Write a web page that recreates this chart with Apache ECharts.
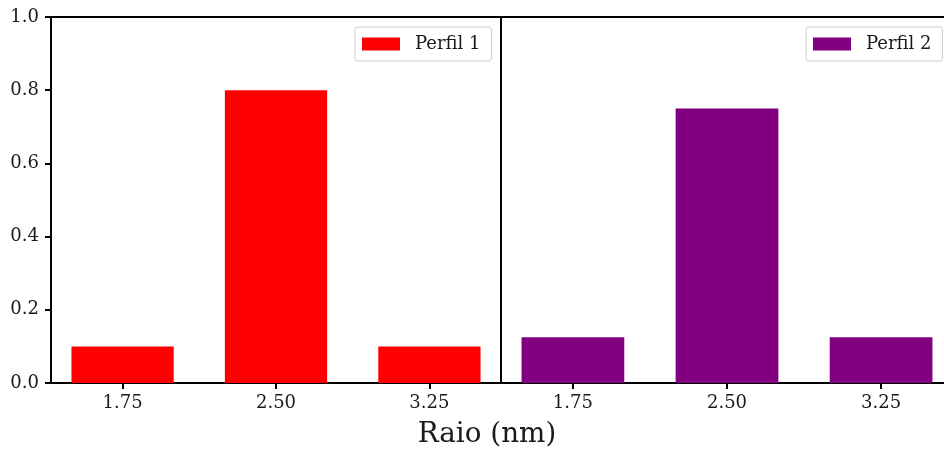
<!DOCTYPE html>
<html>
<head>
<meta charset="utf-8">
<script src="https://cdn.jsdelivr.net/npm/echarts@6/dist/echarts.min.js"></script>
<style>
  html, body { margin: 0; padding: 0; background: #ffffff; }
  #chart { width: 944px; height: 452px; }
</style>
</head>
<body>
<div id="chart"></div>
<script>
// Radius classes (nm) and the fraction of each profile per class
const radii = [1.75, 2.50, 3.25];
const perfil1 = [0.10, 0.80, 0.10];
const perfil2 = [0.125, 0.75, 0.125];
const seriesNames = ['Perfil 1', 'Perfil 2'];
const xTicks = [1.75, 2.50, 3.25];
const xLabel = 'Raio (nm)';

const FONT = 'DejaVu Serif';
const TEXT = '#1a1a1a';
const BAR_W = 0.5; // bar width in data units (nm)

function barRender(params, api) {
  const x = api.value(0), y = api.value(1);
  const p0 = api.coord([x - BAR_W / 2, y]);
  const p1 = api.coord([x + BAR_W / 2, 0]);
  return {
    type: 'rect',
    shape: { x: p0[0], y: p0[1], width: p1[0] - p0[0], height: p1[1] - p0[1] },
    style: api.style()
  };
}

function xAxisFor(gridIndex) {
  return {
    type: 'value', gridIndex, min: 1.4, max: 3.6,
    splitLine: { show: false },
    axisLine: { show: true, onZero: false, lineStyle: { color: '#000', width: 2 } },
    axisTick: { show: true, customValues: xTicks, length: 6, inside: false,
                lineStyle: { color: '#000', width: 2 } },
    axisLabel: { customValues: xTicks, formatter: v => v.toFixed(2), margin: 11,
                 fontFamily: FONT, fontSize: 18, color: TEXT }
  };
}

function legendFor(name, left) {
  return {
    data: [{ name, icon: 'rect' }],
    left, top: 27,
    orient: 'vertical',
    itemWidth: 38, itemHeight: 13,
    padding: [8, 11, 8, 7],
    backgroundColor: 'rgba(255,255,255,0.8)',
    borderColor: '#cccccc', borderWidth: 1, borderRadius: 3,
    textStyle: { fontFamily: FONT, fontSize: 18, color: TEXT, padding: [0, 0, 0, 10] },
    selectedMode: false
  };
}

const chart = echarts.init(document.getElementById('chart'));
chart.setOption({
  animation: false,
  backgroundColor: '#ffffff',
  grid: [
    { left: 51, top: 17, width: 450, height: 366, show: true, outerBoundsMode: 'none',
      borderColor: '#000', borderWidth: 2, backgroundColor: 'transparent' },
    { left: 501, top: 17, width: 452, height: 366, show: true, outerBoundsMode: 'none',
      borderColor: '#000', borderWidth: 2, backgroundColor: 'transparent' }
  ],
  xAxis: [xAxisFor(0), xAxisFor(1)],
  yAxis: [
    { type: 'value', gridIndex: 0, min: 0, max: 1, interval: 0.2,
      splitLine: { show: false },
      axisLine: { show: true, lineStyle: { color: '#000', width: 2 } },
      axisTick: { show: true, length: 6, lineStyle: { color: '#000', width: 2 } },
      axisLabel: { formatter: v => v.toFixed(1), margin: 12,
                   fontFamily: FONT, fontSize: 18, color: TEXT } },
    { type: 'value', gridIndex: 1, min: 0, max: 1, interval: 0.2,
      splitLine: { show: false }, axisLine: { show: false },
      axisTick: { show: false }, axisLabel: { show: false } }
  ],
  legend: [legendFor(seriesNames[0], 355), legendFor(seriesNames[1], 806)],
  graphic: [{
    type: 'text', x: 487, y: 435,
    style: { text: xLabel, fontFamily: FONT, fontSize: 27.8, fill: TEXT,
             textAlign: 'center', textVerticalAlign: 'middle' }
  }],
  series: [
    { name: seriesNames[0], type: 'custom', xAxisIndex: 0, yAxisIndex: 0,
      itemStyle: { color: '#ff0000' }, renderItem: barRender,
      data: radii.map((r, i) => [r, perfil1[i]]) },
    { name: seriesNames[1], type: 'custom', xAxisIndex: 1, yAxisIndex: 1,
      itemStyle: { color: '#800080' }, renderItem: barRender,
      data: radii.map((r, i) => [r, perfil2[i]]) }
  ]
});
</script>
</body>
</html>
